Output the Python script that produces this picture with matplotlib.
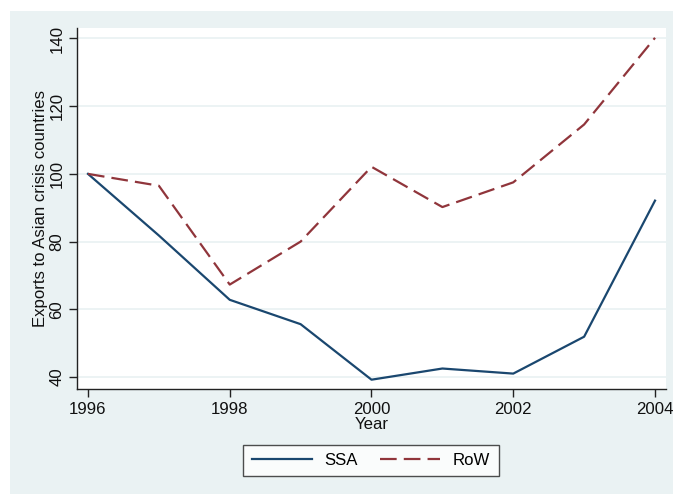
import matplotlib
matplotlib.use("Agg")
import matplotlib.pyplot as plt
from matplotlib.patches import Rectangle

years = [1996, 1997, 1998, 1999, 2000, 2001, 2002, 2003, 2004]
ssa = [100, 81.8, 62.8, 55.6, 39.2, 42.5, 41.0, 51.9, 92.1]
row = [100, 96.5, 67.3, 80.0, 102.1, 90.2, 97.5, 114.6, 140.2]
xticks = [1996, 1998, 2000, 2002, 2004]
yticks = [40, 60, 80, 100, 120, 140]

plt.rcParams['font.family'] = ['Liberation Sans', 'DejaVu Sans']
BG = '#EAF2F3'
FS = 12.1
W, H = 673, 494
fig = plt.figure(figsize=(W / 100, H / 100), dpi=100, facecolor='white')
fig.patches.append(Rectangle((10 / W, -0.01), 1.02 - 10 / W, 1.01 - 11 / H,
                             transform=fig.transFigure, facecolor=BG,
                             edgecolor='none', zorder=-10))

ax = fig.add_axes([77 / W, 1 - 389 / H, (666 - 77) / W, (389 - 28) / H])
ax.set_facecolor('white')
ax.plot(years, ssa, color='#1a476f', lw=1.6, label='SSA', zorder=3)
ax.plot(years, row, color='#90353b', lw=1.6, dashes=(7.5, 3.2), label='RoW', zorder=3)

ax.set_xlim(1995.845, 2004.155)
ax.set_ylim(36.45, 143.1)
ax.set_xticks(xticks)
ax.set_yticks(yticks)
ax.set_yticklabels([str(v) for v in yticks], rotation=90, va='center')
ax.grid(axis='y', color=BG, lw=1.3, zorder=0)
ax.grid(axis='x', visible=False)
for s in ['top', 'right']:
    ax.spines[s].set_visible(False)
for s in ['left', 'bottom']:
    ax.spines[s].set_color('#222222')
    ax.spines[s].set_linewidth(1.0)
ax.tick_params(axis='both', length=6, width=1.0, color='#222222',
               labelsize=FS, labelcolor='#111111', pad=3)
ax.set_xlabel('Year', fontsize=FS, color='#111111', labelpad=0)
ax.set_ylabel('Exports to Asian crisis countries', fontsize=FS,
              color='#111111', labelpad=1)

leg = fig.legend(loc='center', bbox_to_anchor=(371 / W, 1 - 460.5 / H),
                 ncol=2, frameon=True, fancybox=False, fontsize=FS,
                 handlelength=3.6, handletextpad=0.75, columnspacing=1.3,
                 borderpad=0.5, borderaxespad=0)
leg.get_frame().set_edgecolor('#222222')
leg.get_frame().set_linewidth(1.0)
leg.get_frame().set_facecolor('white')

fig.savefig('out.png', dpi=100, facecolor='white')
